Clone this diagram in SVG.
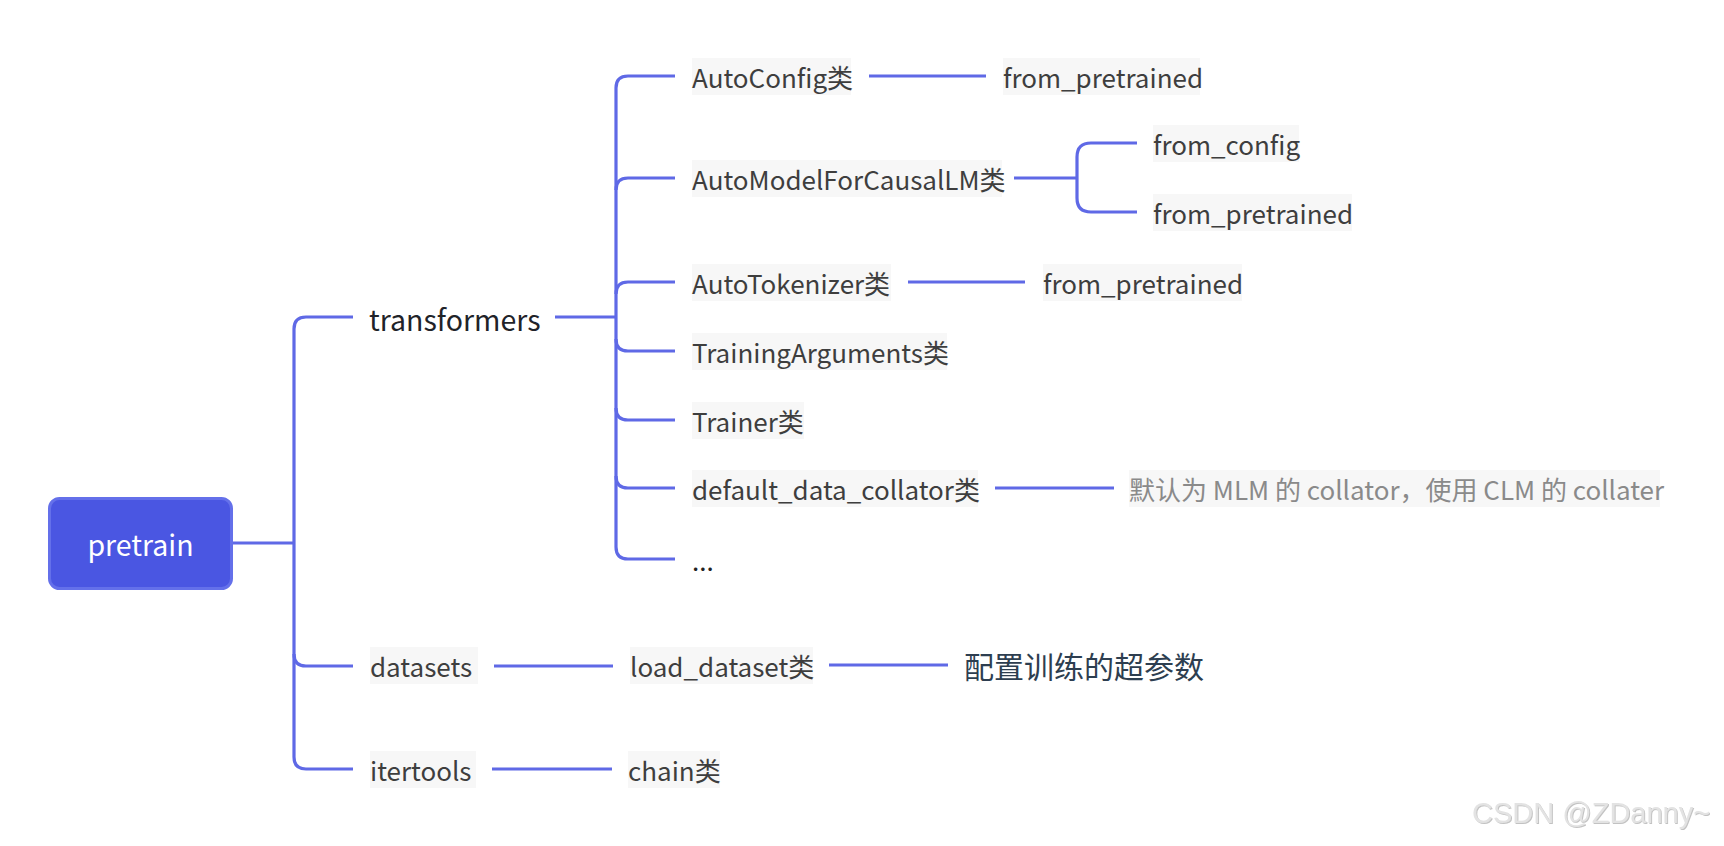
<svg xmlns="http://www.w3.org/2000/svg" width="1724" height="846" viewBox="0 0 1724 846">
<defs>
<style>
.ln{fill:none;stroke:#5f69e6;stroke-width:3.2;stroke-linecap:butt}
.bg{fill:#f7f7f7}
.t{font-family:"Noto Sans CJK SC","Noto Sans",sans-serif;font-size:26px;fill:#3e3e3e;dominant-baseline:central}
.tg{fill:#8a8a8a}
.big{font-family:"Noto Sans CJK SC","Noto Sans",sans-serif;font-size:28.5px;fill:#1f2329;dominant-baseline:central}
.wm{font-family:"Liberation Sans",Arial,sans-serif;font-size:29px;fill:#e3e3e3}
</style>
<filter id="sh" x="-5%" y="-20%" width="110%" height="150%">
<feDropShadow dx="1" dy="1" stdDeviation="0.6" flood-color="#9a9a9a" flood-opacity="0.6"/>
</filter>
</defs>
<rect width="1724" height="846" fill="#ffffff"/>
<g id="connectors">
<path class="ln" d="M233 543 H294"/>
<path class="ln" d="M353 317 H306 Q294 317 294 329 V757 Q294 769 306 769 H353"/>
<path class="ln" d="M294 654 Q294 666 306 666 H353"/>
<path class="ln" d="M555 317 H616"/>
<path class="ln" d="M675 76 H628 Q616 76 616 88 V547 Q616 559 628 559 H675"/>
<path class="ln" d="M616 190 Q616 178 628 178 H675"/>
<path class="ln" d="M616 294 Q616 282 628 282 H675"/>
<path class="ln" d="M616 339 Q616 351 628 351 H675"/>
<path class="ln" d="M616 408 Q616 420 628 420 H675"/>
<path class="ln" d="M616 476 Q616 488 628 488 H675"/>
<path class="ln" d="M869 76 H986"/>
<path class="ln" d="M1014 178 H1077"/>
<path class="ln" d="M1137 143 H1091 Q1077 143 1077 157 V198 Q1077 212 1091 212 H1137"/>
<path class="ln" d="M908 282 H1025"/>
<path class="ln" d="M995 488 H1114"/>
<path class="ln" d="M494 666 H613"/>
<path class="ln" d="M829 665 H948"/>
<path class="ln" d="M492 769 H612"/>
</g>
<g id="pretrain">
<rect x="49.5" y="498.5" width="182" height="90" rx="10" fill="#4a56e2" stroke="#6470ea" stroke-width="3"/>
<text x="140.5" y="543" class="big" style="fill:#ffffff" text-anchor="middle">pretrain</text>
</g>
<g id="transformers">
<text x="369" y="318" class="big">transformers</text>
</g>
<g id="autoconfig">
<rect class="bg" x="692" y="58" width="159" height="37"/>
<text x="692" y="76" class="t">AutoConfig类</text>
</g>
<g id="autoconfig-from-pretrained">
<rect class="bg" x="1003" y="58" width="197" height="37"/>
<text x="1003" y="76" class="t">from_pretrained</text>
</g>
<g id="automodel">
<rect class="bg" x="692" y="160" width="310" height="37"/>
<text x="692" y="178" class="t">AutoModelForCausalLM类</text>
</g>
<g id="automodel-from-config">
<rect class="bg" x="1153" y="125" width="146" height="37"/>
<text x="1153" y="143" class="t">from_config</text>
</g>
<g id="automodel-from-pretrained">
<rect class="bg" x="1153" y="194" width="199" height="37"/>
<text x="1153" y="212" class="t">from_pretrained</text>
</g>
<g id="autotokenizer">
<rect class="bg" x="692" y="264" width="199" height="37"/>
<text x="692" y="282" class="t">AutoTokenizer类</text>
</g>
<g id="autotokenizer-from-pretrained">
<rect class="bg" x="1043" y="264" width="199" height="37"/>
<text x="1043" y="282" class="t">from_pretrained</text>
</g>
<g id="trainingarguments">
<rect class="bg" x="692" y="333" width="255" height="37"/>
<text x="692" y="351" class="t">TrainingArguments类</text>
</g>
<g id="trainer">
<rect class="bg" x="692" y="402" width="112" height="37"/>
<text x="692" y="420" class="t">Trainer类</text>
</g>
<g id="default-data-collator">
<rect class="bg" x="692" y="470" width="286" height="37"/>
<text x="692" y="488" class="t">default_data_collator类</text>
</g>
<g id="collator-note">
<rect class="bg" x="1129" y="470" width="531" height="37"/>
<text x="1129" y="488" class="t tg">默认为 MLM 的 collator，使用 CLM 的 collater</text>
</g>
<g id="ellipsis">
<text x="692" y="559" class="t" style="fill:#222">...</text>
</g>
<g id="datasets">
<rect class="bg" x="370" y="647" width="108" height="37"/>
<text x="370" y="665" class="t">datasets</text>
</g>
<g id="load-dataset">
<rect class="bg" x="630" y="647" width="183" height="37"/>
<text x="630" y="665" class="t">load_dataset类</text>
</g>
<g id="hyperparams">
<text x="964" y="665" class="big" style="font-size:30px;fill:#2d3e50">配置训练的超参数</text>
</g>
<g id="itertools">
<rect class="bg" x="370" y="751" width="106" height="37"/>
<text x="370" y="769" class="t">itertools</text>
</g>
<g id="chain">
<rect class="bg" x="628" y="751" width="92" height="37"/>
<text x="628" y="769" class="t">chain类</text>
</g>
<text x="1472" y="823" class="wm" filter="url(#sh)">CSDN @ZDanny~</text>
</svg>
